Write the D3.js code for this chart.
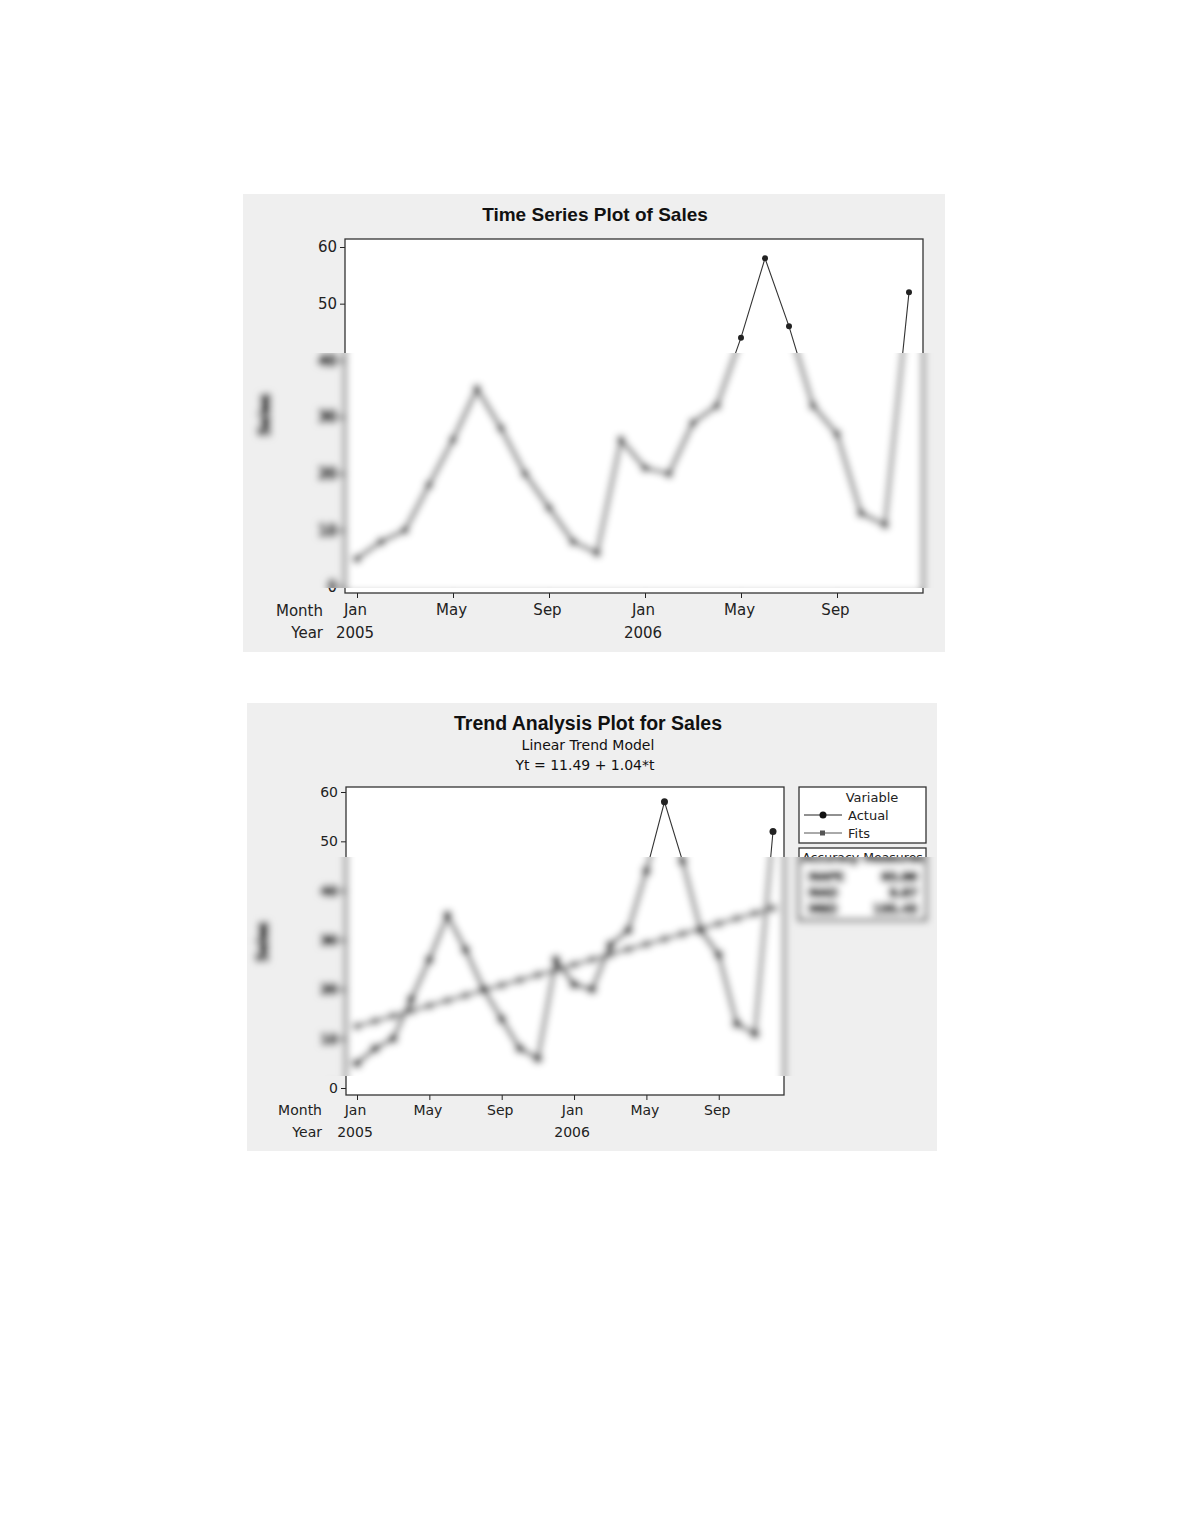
<!DOCTYPE html>
<html>
<head>
<meta charset="utf-8">
<script src="https://cdn.jsdelivr.net/npm/d3@7"></script>
<style>
  html, body { margin: 0; padding: 0; background: #ffffff; }
  svg { display: block; }
</style>
</head>
<body>
<div id="chart"></div>
<script>
// ---------- data ----------
const monthIndex = d3.range(24); // Jan 2005 .. Dec 2006
const tickIndex = [0, 4, 8, 12, 16, 20];
const tickMonths = ["Jan", "May", "Sep", "Jan", "May", "Sep"];
const yearIndex = [0, 12];
const yearLabels = ["2005", "2006"];
const yTicks = [0, 10, 20, 30, 40, 50, 60];
const sales = [5, 8, 10, 18, 26, 35, 28, 20, 14, 8, 6, 26,
               21, 20, 29, 32, 44, 58, 46, 32, 27, 13, 11, 52];
const fits = [12.53, 13.57, 14.61, 15.65, 16.69, 17.73, 18.77, 19.81, 20.85, 21.89, 22.93, 23.97,
              25.01, 26.05, 27.09, 28.13, 29.17, 30.21, 31.25, 32.29, 33.33, 34.37, 35.41, 36.45];
const accuracyNames = ["MAPE", "MAD", "MSD"];
const accuracyValues = ["63.89", "9.87", "155.45"];
const legendNames = ["Actual", "Fits"];

// ---------- setup ----------
const W = 1180, H = 1527;
const FONT = "'DejaVu Sans', Verdana, sans-serif";
const TFONT = "'Liberation Sans', Arial, sans-serif";
const INK = "#222";

const svg = d3.select("#chart").append("svg")
  .attr("width", W).attr("height", H)
  .attr("viewBox", `0 0 ${W} ${H}`);

const defs = svg.append("defs");
const flt = defs.append("filter").attr("id", "blur")
  .attr("x", "-5%").attr("y", "-5%").attr("width", "110%").attr("height", "110%");
flt.append("feMorphology").attr("operator", "erode").attr("radius", 0.9).attr("result", "thick");
flt.append("feGaussianBlur").attr("in", "thick").attr("stdDeviation", 3.8);

svg.append("rect").attr("width", W).attr("height", H).attr("fill", "#fff");

function drawChart(id, cfg) {
  const g = svg.append("g").attr("id", id);
  // panel
  g.append("rect").attr("x", cfg.panel[0]).attr("y", cfg.panel[1])
    .attr("width", cfg.panel[2] - cfg.panel[0]).attr("height", cfg.panel[3] - cfg.panel[1])
    .attr("fill", "#efefef");
  // plot area
  const [fx0, fy0, fx1, fy1] = cfg.frame;
  g.append("rect").attr("x", fx0).attr("y", fy0)
    .attr("width", fx1 - fx0).attr("height", fy1 - fy0)
    .attr("fill", "#fff");

  const x = d3.scaleLinear().domain([0, 23]).range(cfg.xRange);
  const y = d3.scaleLinear().domain([0, 60]).range(cfg.yRange);

  // titles
  cfg.titles.forEach(t => {
    g.append("text").attr("x", t.x).attr("y", t.y)
      .attr("text-anchor", "middle")
      .attr("font-family", t.bold ? TFONT : FONT)
      .attr("font-weight", t.bold ? "bold" : "normal")
      .attr("font-size", t.size).attr("fill", "#111").text(t.text);
  });

  // y axis
  const ya = g.append("g").attr("transform", `translate(${fx0},0)`)
    .call(d3.axisLeft(y).tickValues(yTicks).tickSize(5).tickPadding(3));
  ya.select(".domain").remove();
  ya.selectAll("line").attr("stroke", INK);
  ya.selectAll("text").attr("font-family", FONT).attr("font-size", cfg.fs).attr("fill", INK);

  // x axis
  const xa = g.append("g").attr("transform", `translate(0,${fy1})`)
    .call(d3.axisBottom(x).tickValues(tickIndex).tickSize(5).tickPadding(cfg.xPad)
      .tickFormat((d, i) => tickMonths[i]));
  xa.select(".domain").remove();
  xa.selectAll("line").attr("stroke", INK);
  xa.selectAll("text").attr("font-family", FONT).attr("font-size", cfg.fs).attr("fill", INK)
    .attr("dx", -2).attr("dy", "0.71em");

  // year labels
  g.selectAll(".yr").data(yearIndex).enter().append("text")
    .attr("x", d => x(d) - 2).attr("y", cfg.yearY)
    .attr("text-anchor", "middle").attr("font-family", FONT)
    .attr("font-size", cfg.fs).attr("fill", INK)
    .text((d, i) => yearLabels[i]);

  g.append("text").attr("x", cfg.labelRight).attr("y", cfg.monthY)
    .attr("text-anchor", "end").attr("font-family", FONT)
    .attr("font-size", cfg.fs).attr("fill", INK).text("Month");
  g.append("text").attr("x", cfg.labelRight).attr("y", cfg.yearY)
    .attr("text-anchor", "end").attr("font-family", FONT)
    .attr("font-size", cfg.fs).attr("fill", INK).text("Year");

  // y label
  g.append("text")
    .attr("transform", `translate(${cfg.yLabel[0]},${cfg.yLabel[1]}) rotate(-90)`)
    .attr("text-anchor", "middle").attr("font-family", FONT)
    .attr("font-size", cfg.fs + 1).attr("fill", INK).text("Sales");

  // frame
  g.append("rect").attr("x", fx0).attr("y", fy0)
    .attr("width", fx1 - fx0).attr("height", fy1 - fy0)
    .attr("fill", "none").attr("stroke", "#333").attr("stroke-width", 1.3);

  const line = d3.line().x((d, i) => x(i)).y(d => y(d));

  if (cfg.showFits) {
    g.append("path").datum(fits).attr("d", line)
      .attr("fill", "none").attr("stroke", "#555").attr("stroke-width", 1);
    g.selectAll(".fit").data(fits).enter().append("rect")
      .attr("x", (d, i) => x(i) - 2.5).attr("y", d => y(d) - 2.5)
      .attr("width", 5).attr("height", 5).attr("fill", "#555");
  }

  g.append("path").datum(sales).attr("d", line)
    .attr("fill", "none").attr("stroke", "#333").attr("stroke-width", 1.1);
  g.selectAll(".pt").data(sales).enter().append("circle")
    .attr("cx", (d, i) => x(i)).attr("cy", d => y(d)).attr("r", cfg.r)
    .attr("fill", "#222");

  if (cfg.legend) {
    const L = cfg.legend;
    const lg = g.append("g");
    lg.append("rect").attr("x", L.x0).attr("y", L.y0).attr("width", L.x1 - L.x0).attr("height", L.y1 - L.y0)
      .attr("fill", "#fff").attr("stroke", "#333").attr("stroke-width", 1.3);
    lg.append("text").attr("x", 872).attr("y", L.y0 + 15).attr("text-anchor", "middle")
      .attr("font-family", FONT).attr("font-size", 13).attr("fill", INK).text("Variable");
    legendNames.forEach((nm, i) => {
      const yy = L.y0 + 28 + i * 18;
      lg.append("line").attr("x1", 804).attr("x2", 842).attr("y1", yy).attr("y2", yy)
        .attr("stroke", i === 0 ? "#222" : "#555").attr("stroke-width", 1);
      if (i === 0) lg.append("circle").attr("cx", 823).attr("cy", yy).attr("r", 3.5).attr("fill", "#111");
      else lg.append("rect").attr("x", 820).attr("y", yy - 2.5).attr("width", 5).attr("height", 5).attr("fill", "#555");
      lg.append("text").attr("x", 848).attr("y", yy + 5)
        .attr("font-family", FONT).attr("font-size", 13).attr("fill", INK).text(nm);
    });
    const A = cfg.acc;
    lg.append("rect").attr("x", A.x0).attr("y", A.y0).attr("width", A.x1 - A.x0).attr("height", A.y1 - A.y0)
      .attr("fill", "#fff").attr("stroke", "#333").attr("stroke-width", 1.3);
    lg.append("text").attr("x", (A.x0 + A.x1) / 2).attr("y", A.y0 + 14).attr("text-anchor", "middle")
      .attr("font-family", FONT).attr("font-size", 12.5).attr("fill", INK).text("Accuracy Measures");
    accuracyNames.forEach((nm, i) => {
      const yy = A.y0 + 33 + i * 16;
      lg.append("text").attr("x", 808).attr("y", yy).attr("font-family", FONT)
        .attr("font-size", 13).attr("fill", INK).text(nm);
      lg.append("text").attr("x", 918).attr("y", yy).attr("text-anchor", "end").attr("font-family", FONT)
        .attr("font-size", 13).attr("fill", INK).text(accuracyValues[i]);
    });
  }
  return g;
}

drawChart("c1", {
  panel: [243, 194, 945, 652],
  frame: [345, 239, 923, 593],
  xRange: [357, 909],
  yRange: [587, 247],
  fs: 15,
  r: 3,
  xPad: 6,
  titles: [{ text: "Time Series Plot of Sales", x: 595, y: 221, size: 19, bold: true }],
  monthY: 616, yearY: 638, labelRight: 323,
  yLabel: [270, 415],
  showFits: false
});

drawChart("c2", {
  panel: [247, 703, 937, 1151],
  frame: [346, 787, 784, 1095],
  xRange: [357, 773],
  yRange: [1088, 792],
  fs: 14,
  r: 3.5,
  xPad: 5,
  titles: [
    { text: "Trend Analysis Plot for Sales", x: 588, y: 730, size: 19.5, bold: true },
    { text: "Linear Trend Model", x: 588, y: 750, size: 14, bold: false },
    { text: "Yt = 11.49 + 1.04*t", x: 585, y: 770, size: 14, bold: false }
  ],
  monthY: 1115, yearY: 1137, labelRight: 322,
  yLabel: [268, 942],
  showFits: true,
  legend: { x0: 799, y0: 787, x1: 926, y1: 843 },
  acc: { x0: 799, y0: 848, x1: 926, y1: 920 }
});

// blurred bands (copies of the charts, clipped and blurred)
const bands = [
  { id: "c1", x0: 243, y0: 353, x1: 945, y1: 588 },
  { id: "c2", x0: 247, y0: 857, x1: 937, y1: 1076 }
];
bands.forEach((b, i) => {
  defs.append("clipPath").attr("id", "band" + i)
    .append("rect").attr("x", b.x0).attr("y", b.y0).attr("width", b.x1 - b.x0).attr("height", b.y1 - b.y0);
  const bg = svg.append("g").attr("clip-path", `url(#band${i})`);
  bg.append("rect").attr("x", b.x0).attr("y", b.y0).attr("width", b.x1 - b.x0).attr("height", b.y1 - b.y0)
    .attr("fill", "#efefef");
  bg.append("use").attr("href", "#" + b.id).attr("filter", "url(#blur)");
});
</script>
</body>
</html>
